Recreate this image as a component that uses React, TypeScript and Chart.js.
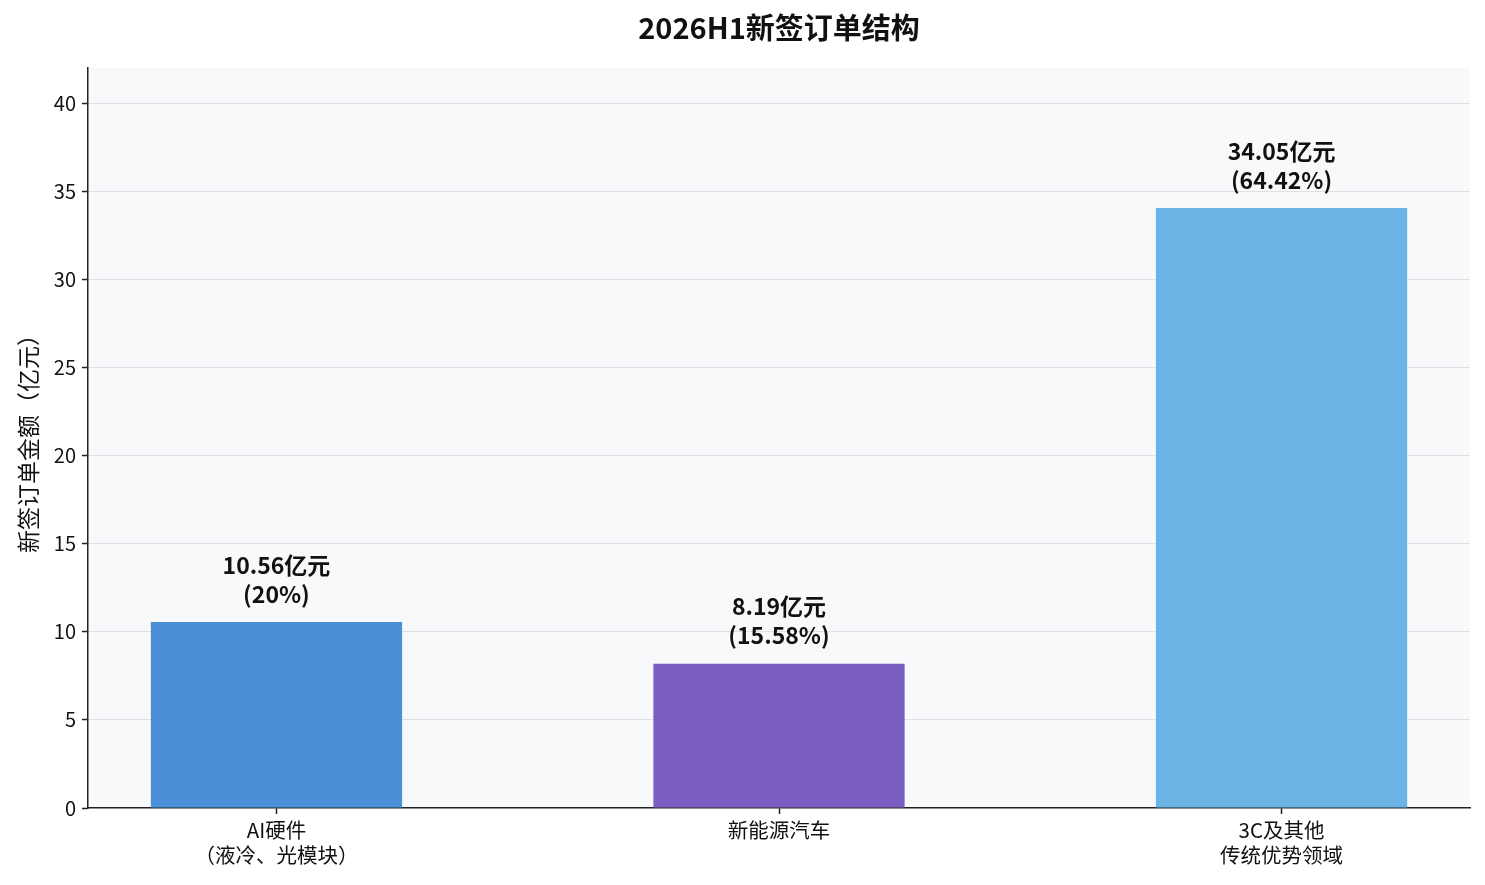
import React, { useRef, useEffect } from "react";
import { Chart, ChartConfiguration, registerables } from "chart.js";

Chart.register(...registerables);

const title = "2026H1新签订单结构";
const categories: string[][] = [
  ["AI硬件", "（液冷、光模块）"],
  ["新能源汽车"],
  ["3C及其他", "传统优势领域"],
];
const amounts: number[] = [10.56, 8.19, 34.05];
const shares: string[] = ["20%", "15.58%", "64.42%"];
const barColors: string[] = ["#4a8fd7", "#7b5ec1", "#6ab4e6"];
const yMax = 42;

const FONT = "'Noto Sans CJK SC', 'Noto Sans', sans-serif";

// plot background, title centred over the plot, value labels above each bar
const decorPlugin = {
  id: "decor",
  beforeDraw(chart: Chart) {
    const { ctx, chartArea } = chart;
    ctx.save();
    ctx.fillStyle = "#f8f9fb";
    ctx.fillRect(chartArea.left, chartArea.top, chartArea.right - chartArea.left, chartArea.bottom - chartArea.top);
    ctx.restore();
  },
  afterDatasetsDraw(chart: Chart) {
    const { ctx, chartArea } = chart;
    const meta = chart.getDatasetMeta(0);
    ctx.save();
    ctx.fillStyle = "#111";
    ctx.textAlign = "center";
    ctx.textBaseline = "middle";
    ctx.font = `bold 29px ${FONT}`;
    ctx.fillText(title, (chartArea.left + chartArea.right) / 2, 28);
    ctx.font = `bold 23px ${FONT}`;
    meta.data.forEach((bar: any, i: number) => {
      ctx.fillText(`${amounts[i]}亿元`, bar.x, bar.y - 57);
      ctx.fillText(`(${shares[i]})`, bar.x, bar.y - 28);
    });
    ctx.restore();
  },
};

const BarChart: React.FC = () => {
  const chartRef = useRef<HTMLCanvasElement | null>(null);
  const chartInstanceRef = useRef<Chart | null>(null);

  useEffect(() => {
    if (!chartRef.current) return;
    const ctx = chartRef.current.getContext("2d");
    if (!ctx) return;
    if (chartInstanceRef.current) chartInstanceRef.current.destroy();

    const config: ChartConfiguration<"bar"> = {
      type: "bar",
      data: {
        datasets: [
          {
            data: amounts.map((v, i) => ({ x: i, y: v })) as any,
            backgroundColor: barColors,
            borderWidth: 0,
            categoryPercentage: 1,
            barPercentage: 0.5,
          },
        ],
      },
      options: {
        animation: false,
        responsive: true,
        maintainAspectRatio: false,
        layout: { padding: { top: 68, right: 15, left: 0, bottom: 0 } },
        plugins: {
          legend: { display: false },
          tooltip: { enabled: false },
          title: { display: false },
        },
        scales: {
          x: {
            type: "linear",
            min: -0.375,
            max: 2.375,
            offset: false,
            afterBuildTicks: (scale: any) => {
              scale.ticks = categories.map((_, i) => ({ value: i }));
            },
            afterFit: (scale: any) => {
              scale.height = 77;
            },
            ticks: {
              callback: (v: any) => categories[Number(v)] ?? "",
              color: "#111",
              font: { family: FONT, size: 20.5, lineHeight: 1.2 },
              padding: 4,
              maxRotation: 0,
              autoSkip: false,
            },
            grid: {
              offset: false,
              drawOnChartArea: false,
              drawTicks: true,
              tickLength: 6,
              tickColor: "#222",
              tickWidth: 1.5,
            },
            border: { color: "#222", width: 1.5 },
          },
          y: {
            min: 0,
            max: yMax,
            z: 1,
            afterBuildTicks: (scale: any) => {
              scale.ticks = scale.ticks.filter((t: any) => t.value % 5 === 0);
            },
            afterFit: (scale: any) => {
              scale.width = 88;
            },
            ticks: {
              stepSize: 5,
              color: "#111",
              font: { family: FONT, size: 20 },
              padding: 6,
            },
            grid: {
              color: (c: any) => (c.tick && c.tick.value === 0 ? "rgba(0,0,0,0)" : "rgba(200,200,205,0.5)"),
              lineWidth: 1,
              borderDash: [6, 4],
              tickBorderDash: [],
              tickLength: 6,
              tickColor: "#222",
              tickWidth: 1.5,
            },
            border: { color: "#222", width: 1.5 },
            title: {
              display: true,
              text: "新签订单金额（亿元）",
              color: "#111",
              font: { family: FONT, size: 23 },
              padding: { top: 14, bottom: 0 },
            },
          },
        },
      },
      plugins: [decorPlugin],
    };

    chartInstanceRef.current = new Chart(ctx, config);
    return () => {
      if (chartInstanceRef.current) {
        chartInstanceRef.current.destroy();
        chartInstanceRef.current = null;
      }
    };
  }, []);

  return (
    <div style={{ position: "fixed", left: 0, top: 0, width: 1485, height: 885, background: "#fff" }}>
      <canvas ref={chartRef}></canvas>
    </div>
  );
};

export default function App() {
  return <BarChart />;
}
